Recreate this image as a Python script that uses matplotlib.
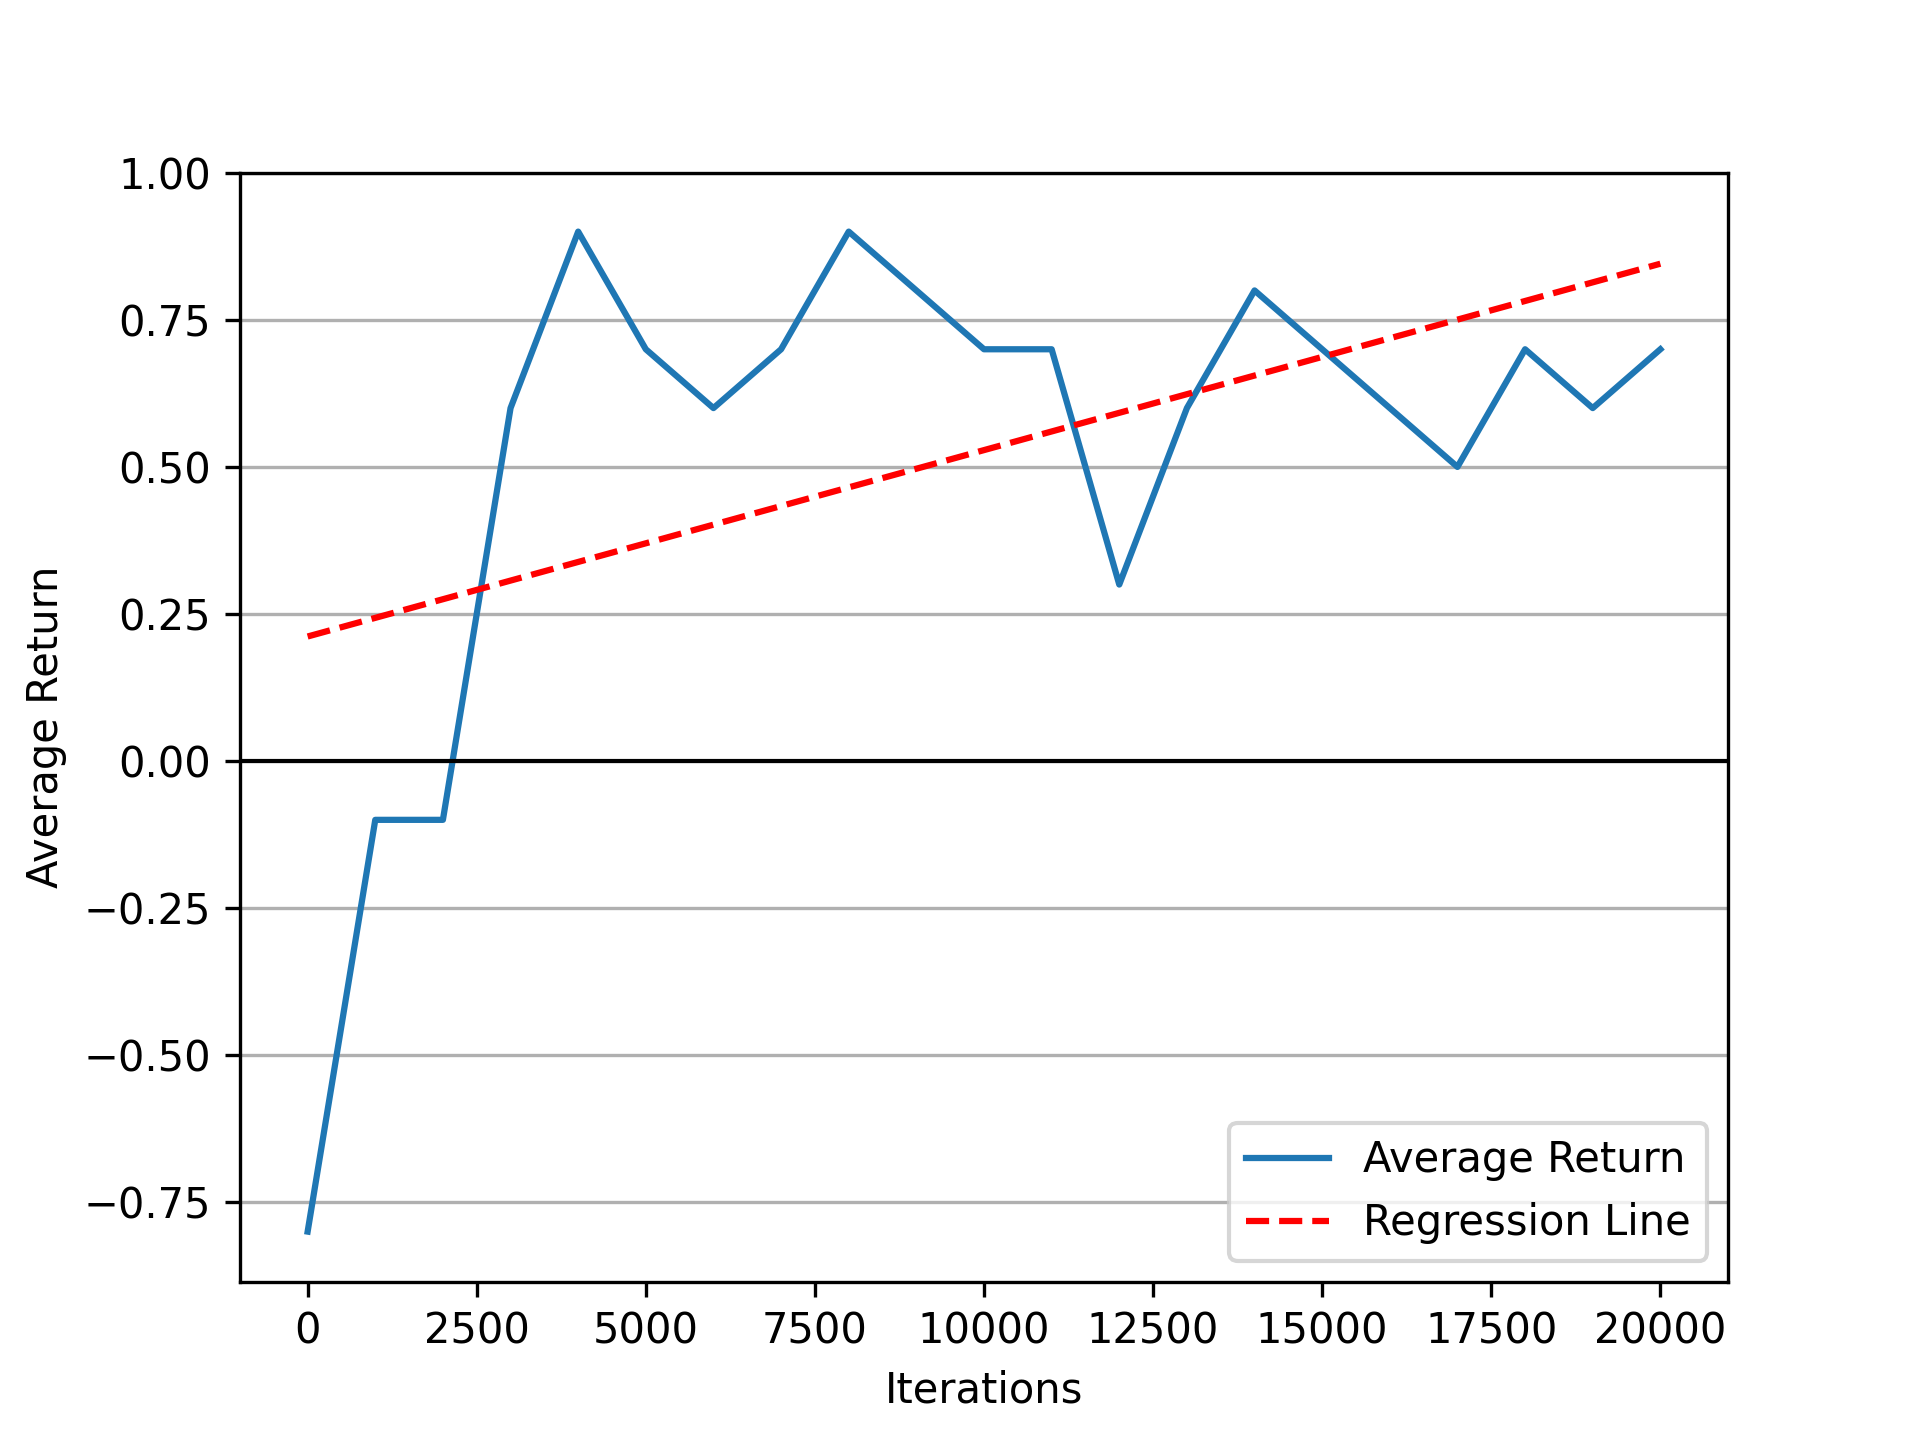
import numpy as np
import matplotlib
matplotlib.use("Agg")
import matplotlib.pyplot as plt

# iterations and average return
iterations = np.arange(0, 21000, 1000)
avg_return = [-0.8, -0.1, -0.1, 0.6, 0.9, 0.7, 0.6, 0.7, 0.9, 0.8, 0.7,
              0.7, 0.3, 0.6, 0.8, 0.7, 0.6, 0.5, 0.7, 0.6, 0.7]

# least squares fit
slope, intercept = np.polyfit(iterations, avg_return, 1)
reg_line = slope * iterations + intercept

fig, ax = plt.subplots(figsize=(6.4, 4.8), dpi=300)
ax.plot(iterations, avg_return, label='Average Return')
ax.plot(iterations, reg_line, 'r--', label='Regression Line')
ax.axhline(0, color='black', linewidth=1)
ax.set_ylim(top=1.0)
ax.set_xlabel('Iterations')
ax.set_ylabel('Average Return')
ax.grid(True, axis='y')
ax.legend(loc='lower right')
fig.savefig('out.png', dpi=300)
